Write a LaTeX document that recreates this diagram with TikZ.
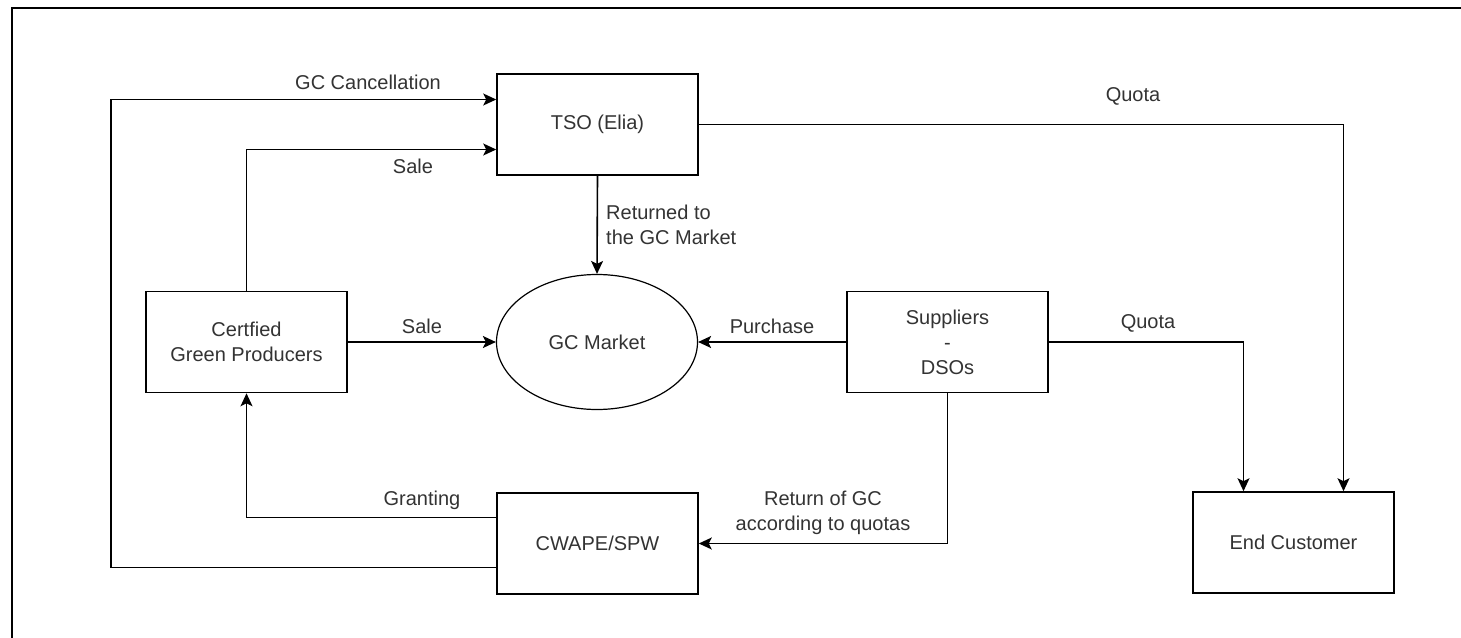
\documentclass[tikz,border=0pt]{standalone}
\usepackage{fontspec}
\setmainfont{Liberation Sans}
\usetikzlibrary{arrows.meta,shapes.geometric}
\definecolor{txt}{HTML}{333333}
\tikzset{
  x=1pt,y=-1pt,
  every node/.style={font=\fontsize{20}{25}\selectfont, text=txt},
  box/.style={draw=black, line width=1.6pt, minimum width=201pt, minimum height=101pt, align=center, inner sep=0pt},
  ell/.style={ellipse, draw=black, line width=1.2pt, minimum width=201pt, minimum height=135pt, inner sep=0pt},
  arr/.style={draw=black, line width=1.6pt, -{Stealth[length=13pt,width=12pt,inset=3pt]}},
  conn/.style={draw=black, line width=1.6pt},
  lbl/.style={inner sep=0pt, align=center},
}
\begin{document}
\begin{tikzpicture}
\useasboundingbox (0,0) rectangle (1461,637);
\fill[white] (0,0) rectangle (1461,637);
\draw[line width=2pt] (1465,8) -- (12,8) -- (12,641);

\node[box] (tso) at (597.5,124.5) {TSO (Elia)};
\node[box] (cgp) at (246.5,342) {Certfied\\Green Producers};
\node[ell] (gcm) at (597,342) {GC Market};
\node[box] (sup) at (947.5,342) {Suppliers\\-\\DSOs};
\node[box] (cw) at (597.5,543.5) {CWAPE/SPW};
\node[box] (ec) at (1293.5,542.5) {End Customer};

\draw[arr] (tso.south) -- (gcm.north);
\draw[arr] (cgp.east) -- (gcm.west);
\draw[arr] (cgp.north) |- ([yshift=-25pt]tso.west);
\draw[arr] ([yshift=-24pt]cw.west) -- ++(-385,0) |- ([yshift=25pt]tso.west);
\draw[arr] ([yshift=26pt]cw.west) -| (cgp.south);
\draw[arr] (sup.west) -- (gcm.east);
\draw[arr] (sup.south) |- (cw.east);
\draw[arr] (sup.east) -| ([xshift=-50pt]ec.north);
\draw[arr] (tso.east) -| ([xshift=50pt]ec.north);

\node[lbl, anchor=west, align=left] (lret) at (606,225) {Returned to\\the GC Market};
\node[lbl] (lsale1) at (422,326) {Sale};
\node[lbl] (lsale2) at (413,166) {Sale};
\node[lbl] (lcan) at (368,82) {GC Cancellation};
\node[lbl] (lgr) at (422,500) {Granting};
\node[lbl] (lpur) at (772,326) {Purchase};
\node[lbl] (lrog) at (823,513) {Return of GC\\according to quotas};
\node[lbl] (lq1) at (1148,323) {Quota};
\node[lbl] (lq2) at (1133,96) {Quota};
\end{tikzpicture}
\end{document}
